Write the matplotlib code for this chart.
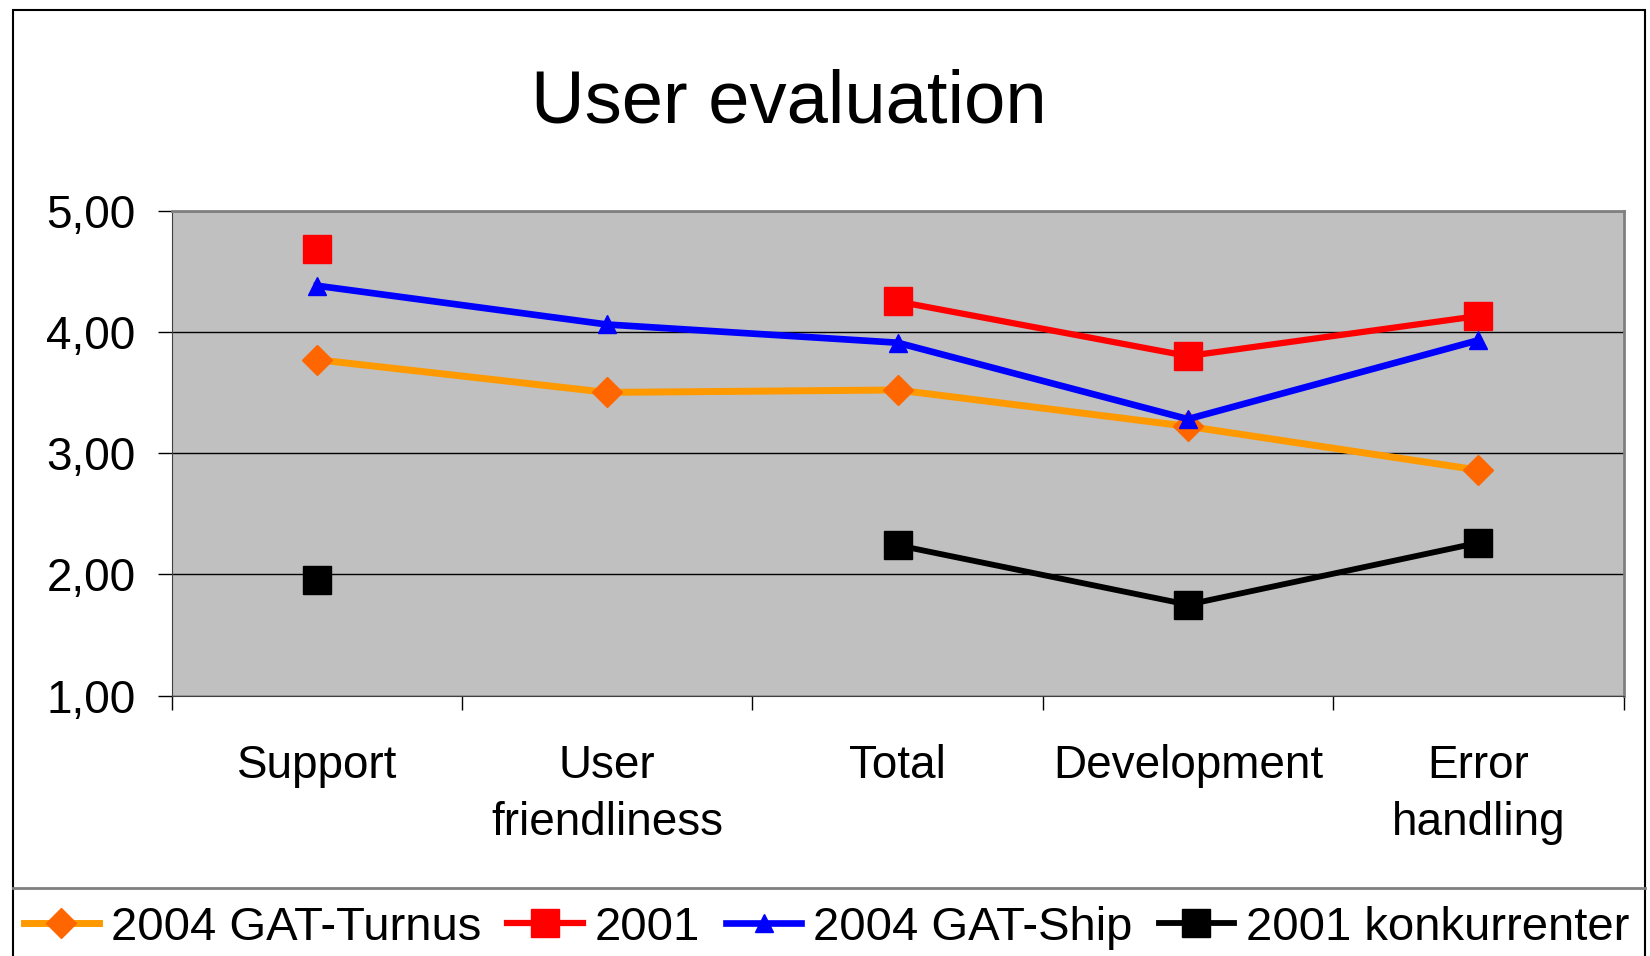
#User evaluation line chart (Excel style)

import numpy as np
import matplotlib
matplotlib.use('Agg')
import matplotlib.pyplot as plt
from matplotlib.patches import Rectangle
from matplotlib.lines import Line2D

plt.rcParams['font.family'] = ['Liberation Sans', 'DejaVu Sans']

#Data (nan = no value)

categories = ['Support', 'User\nfriendliness', 'Total', 'Development', 'Error\nhandling']
turnus_2004 = [3.77, 3.50, 3.52, 3.22, 2.86]
ver_2001 = [4.68, np.nan, 4.25, 3.80, 4.13]
ship_2004 = [4.38, 4.06, 3.91, 3.28, 3.93]
konk_2001 = [1.95, np.nan, 2.24, 1.75, 2.26]
yticks = [1, 2, 3, 4, 5]
ytick_labels = ['1,00', '2,00', '3,00', '4,00', '5,00']

W, H = 1650, 956
fig = plt.figure(figsize=(W/100, H/100), dpi=100)

#Chart frame and legend separator
fig.add_artist(Rectangle((13/W, -0.05), (1645-13)/W, 1.05 - 10/H, transform=fig.transFigure,
                         fill=False, edgecolor='black', lw=1.5))
fig.add_artist(Line2D([13/W, 1645/W], [1-888/H, 1-888/H], transform=fig.transFigure,
                      color='#808080', lw=2))

ax = fig.add_axes([171.5/W, 1-695.6/H, (1623.5-171.5)/W, (695.6-210.5)/H])
ax.set_facecolor('#C0C0C0')

x = np.arange(len(categories))
ax.plot(x, turnus_2004, color='#FF9900', lw=5, marker='D', ms=15,
        mfc='#FF6600', mec='#FF6600', label='2004 GAT-Turnus', zorder=3)
ax.plot(x, ver_2001, color='#FF0000', lw=4.5, marker='s', ms=20,
        mfc='#FF0000', mec='#FF0000', label='2001', zorder=4)
ax.plot(x, ship_2004, color='#0000FF', lw=4.8, marker='^', ms=12.5,
        mfc='#0000FF', mec='#0000FF', label='2004 GAT-Ship', zorder=5)
ax.plot(x, konk_2001, color='#000000', lw=4.2, marker='s', ms=20,
        mfc='#000000', mec='#000000', label='2001 konkurrenter', zorder=3)

ax.set_xlim(-0.5, len(categories) - 0.5)
ax.set_ylim(1, 5)

ax.set_yticks(yticks)
ax.set_yticklabels(ytick_labels, fontsize=33)
ax.tick_params(axis='y', direction='out', length=10, width=1, pad=16)
ax.yaxis.grid(True, color='black', lw=1)
ax.set_axisbelow(True)

ax.set_xticks(np.arange(-0.5, len(categories), 1))
ax.set_xticklabels([])
ax.tick_params(axis='x', which='major', direction='out', length=10, width=1)
ax.set_xticks(x, minor=True)
ax.set_xticklabels(categories, minor=True, fontsize=33, linespacing=1.38)
ax.tick_params(axis='x', which='minor', length=0, pad=35)

ax.spines['top'].set_color('#808080')
ax.spines['right'].set_color('#808080')
ax.spines['top'].set_linewidth(2)
ax.spines['right'].set_linewidth(2)
ax.spines['left'].set_color('#404040')
ax.spines['bottom'].set_color('#404040')

fig.text(789/W, 1-103/H, 'User evaluation', ha='center', va='center', fontsize=53.5)

fig.legend(loc='center', bbox_to_anchor=(826.5/W, 1-928/H), ncol=4, frameon=False,
           fontsize=34, handlelength=1.6, handletextpad=0.25, columnspacing=0.55,
           borderaxespad=0, borderpad=0)

fig.savefig('out.png', dpi=100)
